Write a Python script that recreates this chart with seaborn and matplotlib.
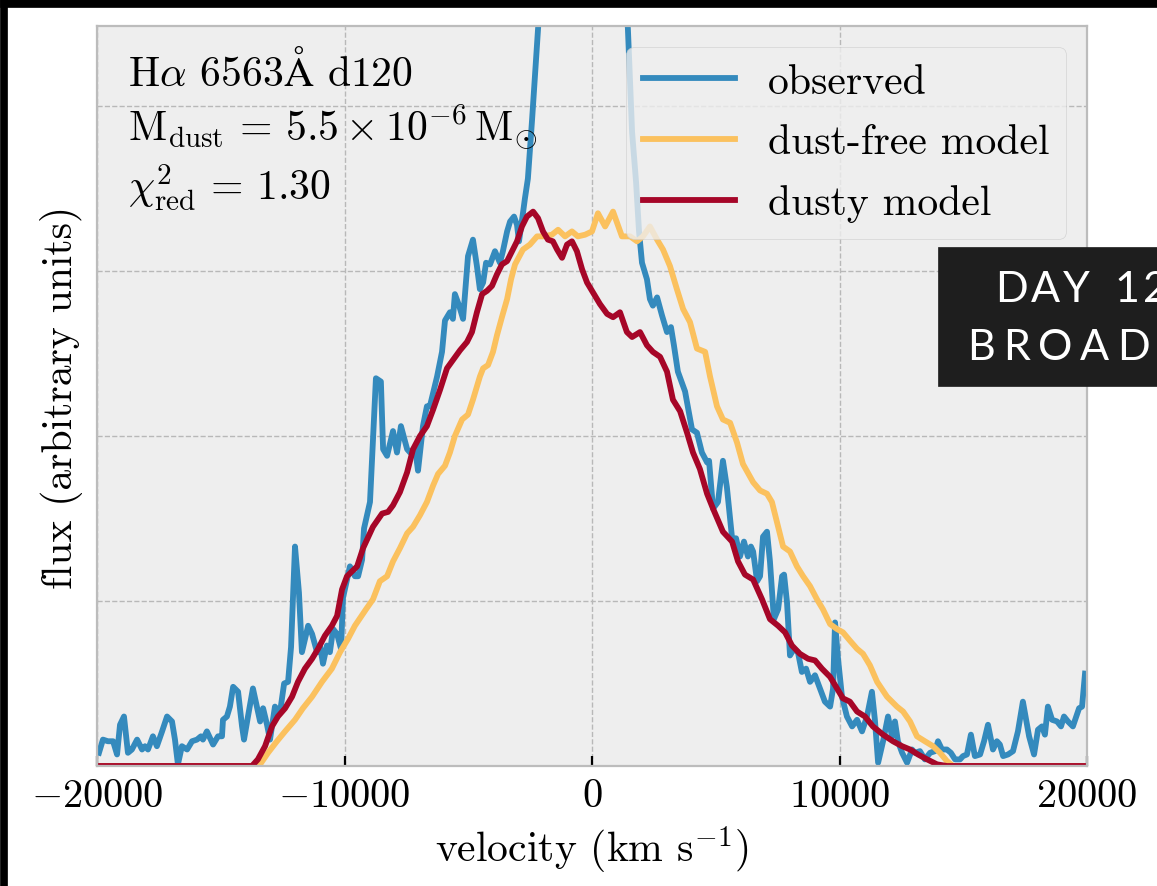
import matplotlib
matplotlib.use("Agg")
import matplotlib.pyplot as plt
from matplotlib.patches import Rectangle
import numpy as np
import seaborn as sns

# ---- data (velocity in km/s, flux in arbitrary units) -----------------------
obs_v = [-19920, -19760, -19560, -19350, -19190, -19070, -18910, -18750, -18590, -18380,
         -18180, -18060, -17940, -17740, -17580, -17370, -17170, -16970, -16850, -16730,
         -16570, -16360, -16160, -15960, -15800, -15720, -15560, -15310, -15110, -14950,
         -14910, -14750, -14630, -14500, -14300, -14140, -14060, -13900, -13700, -13540,
         -13410, -13290, -13130, -13010, -12810, -12610, -12440, -12280, -12160, -12000,
         -11840, -11720, -11470, -11310, -11110, -10990, -10870, -10710, -10590, -10460,
         -10300, -10140, -10060, -9780, -9580, -9450, -9290, -9210, -8970, -8730,
         -8530, -8440, -8280, -8040, -7880, -7720, -7470, -7350, -7150, -7030,
         -6830, -6670, -6550, -6260, -6060, -5940, -5740, -5620, -5540, -5370,
         -5210, -5010, -4810, -4650, -4530, -4400, -4280, -4120, -3920, -3720,
         -3600, -3430, -3310, -3150, -3030, -2950, -2790, -2710, -2590, -2420,
         -2260, -2100, -1780, -1290, -690, -80, 530, 930, 1210, 1450,
         1620, 1780, 1900, 2020, 2220, 2340, 2460, 2630, 2830, 3030,
         3190, 3310, 3470, 3760, 4040, 4240, 4440, 4650, 4730, 4890,
         5090, 5290, 5450, 5660, 5820, 5980, 6140, 6300, 6420, 6510,
         6670, 6790, 6910, 7070, 7190, 7350, 7520, 7680, 7760, 7880,
         8000, 8160, 8320, 8480, 8650, 8810, 9010, 9210, 9410, 9620,
         9740, 9820, 9940, 10100, 10300, 10510, 10710, 10910, 11110, 11310,
         11430, 11560, 11760, 11960, 12120, 12240, 12360, 12530, 12730, 12930,
         13050, 13250, 13450, 13660, 13860, 13980, 14140, 14340, 14500, 14670,
         14870, 14990, 15150, 15310, 15470, 15680, 15840, 16000, 16200, 16360,
         16480, 16610, 16810, 17010, 17210, 17410, 17660, 17860, 18020, 18180,
         18300, 18420, 18590, 18790, 18950, 19070, 19230, 19430, 19680, 19800,
         19920]
obs_f = [0.08, 0.16, 0.15, 0.15, 0.07, 0.25, 0.30, 0.08, 0.10, 0.16,
         0.10, 0.12, 0.10, 0.18, 0.12, 0.21, 0.30, 0.27, 0.16, 0.01,
         0.12, 0.10, 0.15, 0.16, 0.18, 0.16, 0.21, 0.13, 0.18, 0.18,
         0.28, 0.30, 0.36, 0.48, 0.45, 0.24, 0.16, 0.30, 0.47, 0.36,
         0.27, 0.35, 0.25, 0.16, 0.36, 0.32, 0.50, 0.51, 0.72, 1.33,
         1.05, 0.69, 0.85, 0.80, 0.69, 0.73, 0.62, 0.73, 0.69, 0.83,
         0.80, 0.71, 1.02, 1.21, 1.15, 1.15, 1.25, 1.44, 1.60, 2.35,
         2.33, 1.92, 1.88, 2.03, 1.90, 2.06, 1.92, 1.90, 1.93, 1.79,
         2.06, 2.18, 2.18, 2.36, 2.51, 2.70, 2.75, 2.71, 2.86, 2.79,
         2.71, 3.09, 3.19, 3.03, 2.89, 2.93, 3.05, 3.04, 3.12, 3.05,
         3.12, 3.24, 3.30, 3.33, 3.28, 3.18, 3.35, 3.44, 3.56, 3.92,
         4.28, 4.65, 5.38, 6.16, 6.65, 6.77, 6.35, 5.56, 4.95, 4.47,
         3.84, 3.54, 3.24, 3.05, 2.95, 2.83, 2.79, 2.84, 2.73, 2.63,
         2.66, 2.55, 2.39, 2.27, 2.04, 2.02, 1.90, 1.84, 1.85, 1.56,
         1.60, 1.85, 1.69, 1.38, 1.38, 1.27, 1.36, 1.27, 1.33, 1.30,
         1.12, 1.15, 1.39, 1.42, 1.24, 0.89, 0.95, 1.15, 1.16, 0.99,
         0.67, 0.71, 0.69, 0.57, 0.59, 0.51, 0.55, 0.47, 0.39, 0.36,
         0.47, 0.87, 0.65, 0.42, 0.30, 0.24, 0.28, 0.21, 0.30, 0.45,
         0.28, 0.02, 0.15, 0.30, 0.18, 0.27, 0.15, 0.08, 0.02, 0.10,
         0.08, 0.09, 0.04, 0.08, 0.09, 0.15, 0.10, 0.10, 0.08, 0.04,
         0.04, 0.06, 0.07, 0.19, 0.06, 0.07, 0.15, 0.25, 0.10, 0.15,
         0.13, 0.06, 0.07, 0.09, 0.21, 0.39, 0.18, 0.07, 0.22, 0.24,
         0.19, 0.36, 0.28, 0.27, 0.24, 0.30, 0.27, 0.24, 0.35, 0.36,
         0.56]

free_v = [-20000, -13620, -13410, -13090, -12730, -12400, -12000, -11680, -11310, -10910,
          -10510, -10180, -9860, -9580, -9130, -8850, -8570, -8280, -8040, -7760,
          -7470, -7230, -6950, -6670, -6420, -6220, -5940, -5740, -5540, -5250,
          -5010, -4810, -4530, -4400, -4200, -4000, -3840, -3640, -3430, -3270,
          -3110, -2790, -2510, -2220, -1980, -1620, -1370, -1090, -810, -570,
          -280, 0, 240, 530, 850, 1210, 1540, 1820, 2060, 2340,
          2630, 2870, 3150, 3430, 3680, 3960, 4240, 4570, 4770, 5050,
          5290, 5580, 5860, 6100, 6510, 6790, 7070, 7270, 7470, 7720,
          8000, 8280, 8530, 8810, 9090, 9330, 9620, 9900, 10140, 10420,
          10710, 10950, 11230, 11520, 11920, 12320, 12570, 12850, 13130, 13450,
          13780, 14060, 14340, 14590, 20000]
free_f = [0.00, 0.00, 0.01, 0.08, 0.15, 0.21, 0.28, 0.35, 0.42, 0.51,
          0.59, 0.69, 0.77, 0.85, 0.95, 1.01, 1.12, 1.15, 1.24, 1.32,
          1.41, 1.45, 1.52, 1.60, 1.70, 1.77, 1.82, 1.90, 2.00, 2.10,
          2.13, 2.22, 2.36, 2.41, 2.43, 2.51, 2.61, 2.72, 2.83, 2.95,
          3.04, 3.13, 3.16, 3.21, 3.21, 3.22, 3.25, 3.21, 3.24, 3.21,
          3.22, 3.24, 3.35, 3.27, 3.36, 3.21, 3.21, 3.18, 3.21, 3.27,
          3.19, 3.13, 3.03, 2.89, 2.77, 2.69, 2.53, 2.51, 2.36, 2.18,
          2.10, 2.08, 1.96, 1.83, 1.72, 1.67, 1.65, 1.60, 1.48, 1.33,
          1.30, 1.21, 1.15, 1.09, 1.01, 0.95, 0.86, 0.83, 0.81, 0.76,
          0.71, 0.68, 0.61, 0.51, 0.42, 0.36, 0.33, 0.27, 0.18, 0.15,
          0.12, 0.08, 0.03, 0.00, 0.00]

dusty_v = [-20000, -13740, -13500, -13210, -12930, -12690, -12400, -12120, -11880, -11600,
           -11310, -11070, -10790, -10510, -10300, -10100, -9900, -9490, -9250, -8850,
           -8480, -8240, -8040, -7760, -7470, -7230, -6950, -6670, -6420, -6140,
           -5860, -5620, -5330, -5050, -4850, -4650, -4440, -4240, -4040, -3840,
           -3640, -3430, -3230, -3030, -2830, -2630, -2380, -2180, -1980, -1780,
           -1580, -1410, -1210, -1010, -810, -610, -400, -200, 40, 320,
           610, 850, 1130, 1410, 1620, 1940, 2220, 2460, 2750, 3030,
           3270, 3560, 3840, 4080, 4360, 4650, 4890, 5290, 5660, 5900,
           6180, 6510, 6870, 7190, 7520, 7800, 8080, 8400, 8730, 9010,
           9290, 9620, 9900, 10140, 10420, 10710, 11030, 11350, 11760, 12160,
           12530, 12850, 13170, 13540, 13940, 14340, 20000]
dusty_f = [0.00, 0.00, 0.04, 0.12, 0.24, 0.30, 0.35, 0.42, 0.51, 0.59,
           0.65, 0.71, 0.79, 0.85, 0.91, 1.07, 1.15, 1.21, 1.32, 1.45,
           1.53, 1.54, 1.58, 1.66, 1.78, 1.92, 2.00, 2.06, 2.16, 2.28,
           2.41, 2.46, 2.52, 2.57, 2.63, 2.75, 2.86, 2.88, 2.91, 2.98,
           3.04, 3.06, 3.12, 3.18, 3.27, 3.33, 3.36, 3.32, 3.24, 3.19,
           3.18, 3.13, 3.08, 3.16, 3.18, 3.12, 3.01, 2.93, 2.87, 2.80,
           2.74, 2.72, 2.75, 2.63, 2.60, 2.63, 2.55, 2.51, 2.48, 2.39,
           2.22, 2.15, 2.02, 1.90, 1.80, 1.65, 1.56, 1.42, 1.36, 1.24,
           1.16, 1.13, 1.01, 0.89, 0.85, 0.81, 0.73, 0.68, 0.65, 0.64,
           0.59, 0.54, 0.47, 0.41, 0.39, 0.33, 0.30, 0.24, 0.19, 0.15,
           0.12, 0.10, 0.07, 0.04, 0.01, 0.00, 0.00]

x_ticks = [-20000, -10000, 0, 10000, 20000]
y_grid = [1, 2, 3, 4]

# ---- style ------------------------------------------------------------------
plt.style.use("bmh")
plt.rcParams.update({
    "font.family": ["cmr10", "DejaVu Serif"],
    "mathtext.fontset": "cm",
    "axes.formatter.use_mathtext": True,
    "axes.unicode_minus": True,
    "axes.linewidth": 1.6,
    "grid.linewidth": 1.0,
    "grid.color": "#b8b8b8",
})

W, H = 1157, 887
fig = plt.figure(figsize=(W / 100, H / 100), dpi=100, facecolor="white")
ax = fig.add_axes([97 / W, 1 - 767 / H, 990 / W, 740 / H])

lw = 4.2
sns.lineplot(x=obs_v, y=obs_f, ax=ax, color="#348ABD", lw=lw, label="observed",
             estimator=None, sort=False)
sns.lineplot(x=free_v, y=free_f, ax=ax, color="#FBC15E", lw=lw, label="dust-free model",
             estimator=None, sort=False)
sns.lineplot(x=dusty_v, y=dusty_f, ax=ax, color="#A60628", lw=lw, label="dusty model",
             estimator=None, sort=False)

ax.set_xlim(-20000, 20000)
ax.set_ylim(0, 4.485)
ax.set_xticks(x_ticks)
ax.set_yticks(y_grid)
ax.tick_params(axis="x", direction="in", length=7, width=1.6, color="black",
               labelsize=29, pad=9)
ax.tick_params(axis="y", length=0, labelleft=False)
ax.set_xlabel(r"velocity (km s$^{-1}$)", fontsize=30, labelpad=7)
ax.set_ylabel("flux (arbitrary units)", fontsize=30, labelpad=10)

ax.legend(loc="upper right", fontsize=30, handlelength=2.2, labelspacing=0.55,
          frameon=True)

ax.text(0.031, 0.920, r"H$\alpha$ 6563$\mathrm{\AA}$ d120", transform=ax.transAxes,
        fontsize=30, va="baseline")
ax.text(0.031, 0.847,
        r"$\mathrm{M_{dust}}\,=\,5.5\times10^{-6}\,\mathrm{M_{\odot}}$",
        transform=ax.transAxes, fontsize=30, va="baseline")
ax.text(0.031, 0.766, r"$\chi^2_{\mathrm{red}}\,=\,1.30$", transform=ax.transAxes,
        fontsize=30, va="baseline")

# ---- screenshot frame and caption overlay -----------------------------------
fig.patches.append(Rectangle((0, 1 - 8 / H), 1, 8 / H, transform=fig.transFigure,
                             color="black", zorder=10))
fig.patches.append(Rectangle((0, 0), 7 / W, 1, transform=fig.transFigure,
                             color="black", zorder=10))
fig.patches.append(Rectangle((938 / W, 1 - 387 / H), 1, 139 / H, transform=fig.transFigure,
                             color="#1e1e1e", zorder=10))


def spaced_text(x_px, base_px, s, gap, space, **kw):
    renderer = fig.canvas.get_renderer()
    x = x_px
    for ch in s:
        if ch == " ":
            x += space
            continue
        t = fig.text(x / W, 1 - base_px / H, ch, va="baseline", **kw)
        x += t.get_window_extent(renderer).width + gap


cap_kw = dict(color="white", fontsize=31, family=["Lato", "DejaVu Sans"],
              fontweight="normal", zorder=11)
spaced_text(995, 302, "DAY 12", 3, 22, **cap_kw)
spaced_text(967, 360, "BROAD", 8, 26, **cap_kw)

fig.savefig("out.png", dpi=100)
